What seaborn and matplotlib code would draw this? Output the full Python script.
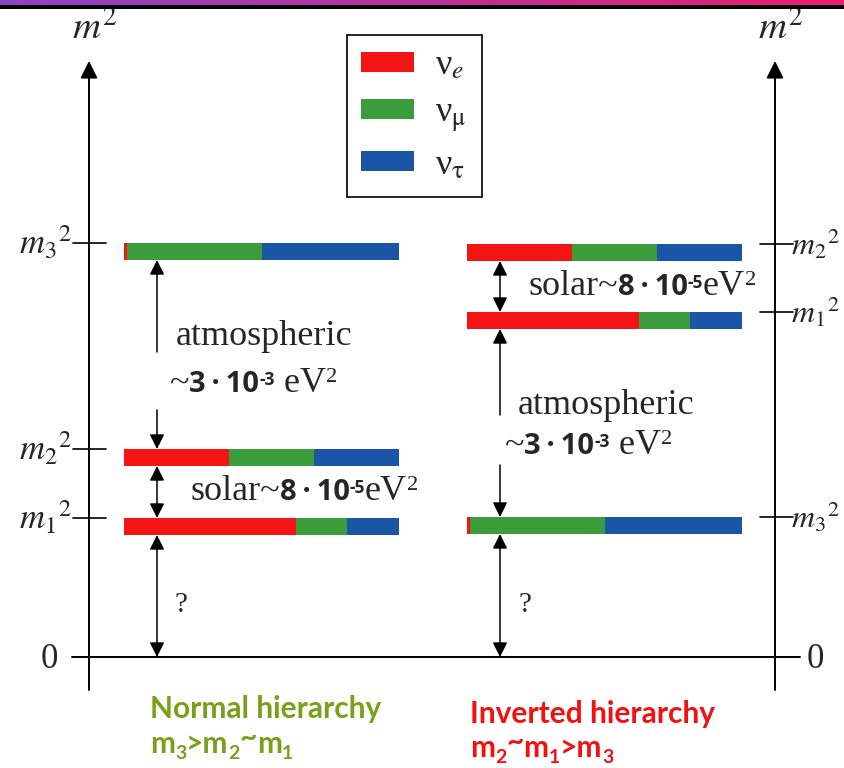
import numpy as np
import pandas as pd
import matplotlib
matplotlib.use("Agg")
import matplotlib.pyplot as plt
from matplotlib.patches import Patch
import seaborn as sns

# ---- data -----------------------------------------------------------------
flavors = ["e", "mu", "tau"]
flavor_labels = ["ν$_e$", "ν$_{\\mathrm{μ}}$", "ν$_{\\mathrm{τ}}$"]
flavor_colors = ["#f41414", "#3b9c3b", "#1b56a6"]

states = ["m1", "m2", "m3"]
# flavour content |U_ai|^2 of each mass state (e, mu, tau)
content_m1 = [0.625, 0.185, 0.19]
content_m2 = [0.38, 0.31, 0.31]
content_m3 = [0.01, 0.49, 0.50]

# schematic m^2 levels (arbitrary units, zero at the baseline)
normal_levels = [1.39, 2.08, 4.14]
inverted_levels = [3.45, 4.13, 1.40]

state_ticks = [r"$m_1{}^2$", r"$m_2{}^2$", r"$m_3{}^2$"]

# ---- style ----------------------------------------------------------------
sns.set_theme(style="white")
plt.rcParams["font.family"] = ["Liberation Serif", "DejaVu Serif"]
plt.rcParams["mathtext.fontset"] = "stix"
palette = dict(zip(flavors, sns.color_palette(flavor_colors)))

SERIF = ["Liberation Serif", "DejaVu Serif"]
GOTHIC = ["Open Sans", "DejaVu Sans"]
CALIB = ["Lato", "DejaVu Sans"]

fig = plt.figure(figsize=(8.44, 7.68), dpi=100)
ax = fig.add_axes([0, 0, 1, 1])
ax.set_xlim(0, 844)
ax.set_ylim(-1.11, 6.57)
ax.axis("off")

# header stripe
hdr = fig.add_axes([0, 1 - 9 / 768, 1, 9 / 768])
c0 = np.array([0x8e, 0x44, 0xc8]) / 255
c1 = np.array([0xea, 0x1e, 0x6e]) / 255
t = np.linspace(0, 1, 400)[None, :, None]
grad = c0 + (c1 - c0) * t
img = np.concatenate([np.repeat(grad, 5, axis=0), np.zeros((4, 400, 3))], axis=0)
hdr.imshow(img, aspect="auto", interpolation="bilinear")
hdr.axis("off")

# ---- level bars -------------------------------------------------------------
content = dict(zip(states, [content_m1, content_m2, content_m3]))
rows = []
for name, levels, x0 in [("normal", normal_levels, 124), ("inverted", inverted_levels, 467)]:
    for st, lv in zip(states, levels):
        cum = 0.0
        for fl, fr in zip(flavors, content[st]):
            rows.append(dict(hier=name, state=st, level=lv, flavor=fl, left=cum, frac=fr, x0=x0))
            cum += fr
df = pd.DataFrame(rows)

BAR_W = 275
BAR_H = 0.17
for _, r in df.iterrows():
    ax.barh(r.level, r.frac * BAR_W, left=r.x0 + r.left * BAR_W, height=-BAR_H,
            align="edge", color=palette[r.flavor], linewidth=0)

# ---- axes ------------------------------------------------------------------
ax.plot([72, 800], [0, 0], color="black", lw=1.4)
for xa in (89, 775):
    ax.annotate("", xy=(xa, 5.96), xytext=(xa, -0.33),
                arrowprops=dict(arrowstyle="-|>", color="black", lw=1.4,
                                mutation_scale=26, shrinkA=0, shrinkB=0))
    ax.text(xa + 6, 6.28, r"$m^2$", ha="center", va="center", fontsize=28)

TICK_FS = 25
for lv, lab in zip(normal_levels, state_ticks):
    ax.plot([73, 106], [lv, lv], color="black", lw=1.2)
    ax.text(72, lv, lab, ha="right", va="center", fontsize=TICK_FS)
for lv, lab in zip(inverted_levels, state_ticks):
    ax.plot([760, 793], [lv, lv], color="black", lw=1.2)
    ax.text(791, lv, lab, ha="left", va="center", fontsize=23)
ax.text(49, -0.03, "0", ha="center", va="center", fontsize=TICK_FS)
ax.text(815, -0.03, "0", ha="center", va="center", fontsize=TICK_FS)


# ---- arrows ----------------------------------------------------------------
def arrow(x, y_from, y_to, both=False):
    ax.annotate("", xy=(x, y_to), xytext=(x, y_from),
                arrowprops=dict(arrowstyle="<|-|>" if both else "-|>", color="black",
                                lw=1.1, mutation_scale=22, shrinkA=0, shrinkB=0))


n1, n2, n3 = normal_levels
arrow(157, 3.05, n3 - BAR_H)
arrow(157, 2.47, n2)
arrow(157, n2 - BAR_H, n1, both=True)
arrow(157, n1 - BAR_H, 0, both=True)

i1, i2, i3 = inverted_levels
arrow(500, i2 - BAR_H, i1, both=True)
arrow(500, 2.42, i1 - BAR_H)
arrow(500, 1.92, i3)
arrow(500, i3 - BAR_H, 0, both=True)


# ---- annotations ------------------------------------------------------------
renderer = fig.canvas.get_renderer()


def rich(x, y, parts):
    """Draw text pieces one after another on a common baseline."""
    xd = x
    for s, kw, dy in parts:
        tx = ax.text(xd, y + dy / 100.0, s, ha="left", va="baseline", **kw)
        bb = tx.get_window_extent(renderer)
        xd = ax.transData.inverted().transform((bb.x1, 0))[0]


S = 26
serif = dict(family=SERIF, fontsize=S)
serif_sup = dict(family=SERIF, fontsize=S * 0.62)
goth = dict(family=GOTHIC, fontsize=21, fontweight="bold")
goth_sup = dict(family=GOTHIC, fontsize=12.5, fontweight="bold")
THIN = "\u2009"


def solar(x, y):
    rich(x, y, [("solar~", serif, 0), ("8" + THIN + "·" + THIN + "10", goth, 0), ("-5", goth_sup, 7),
                ("eV", serif, 0), ("2", serif_sup, 10)])


def atmo(x, y):
    rich(x, y, [("~", serif, 0), ("3" + THIN + "·" + THIN + "10", goth, 0), ("-3", goth_sup, 7),
                (" eV", serif, 0), ("2", serif_sup, 10)])


ax.text(176, (657 - 345) / 100, "atmospheric", ha="left", va="baseline", **serif)
atmo(170, (657 - 392) / 100)
solar(190, (657 - 500) / 100)

solar(528, (657 - 295) / 100)
ax.text(518, (657 - 414) / 100, "atmospheric", ha="left", va="baseline", **serif)
atmo(505, (657 - 454) / 100)

ax.text(181, (657 - 605) / 100, "?", ha="center", va="center", fontsize=21)
ax.text(525, (657 - 605) / 100, "?", ha="center", va="center", fontsize=21)

# ---- legend ----------------------------------------------------------------
handles = [Patch(facecolor=palette[f], edgecolor="none") for f in flavors]
leg = ax.legend(handles, flavor_labels, loc="upper left",
                bbox_to_anchor=(347 / 844, 1 - 35 / 768), bbox_transform=fig.transFigure,
                borderaxespad=0, frameon=True, fancybox=False, framealpha=1,
                edgecolor="black", fontsize=26, handlelength=1.45, handleheight=0.47,
                handletextpad=0.6, labelspacing=0.40, borderpad=0.40)
leg.get_frame().set_linewidth(1.2)

# ---- hierarchy captions -------------------------------------------------------
green = "#78a01a"
red = "#f21010"
cap = dict(family=CALIB, fontsize=21.5, fontweight="bold")
sub = dict(family=CALIB, fontsize=14, fontweight="bold")


def relation(x, y, color, order, signs):
    kw = dict(color=color, **cap)
    kws = dict(color=color, **sub)
    parts = [("m", kw, 0), (order[0], kws, -6)]
    for sign, idx in zip(signs, order[1:]):
        if sign == "~":
            parts += [("~", kw, 6), ("m", kw, 0), (idx, kws, -6)]
        else:
            parts += [(sign + "m", kw, 0), (idx, kws, -6)]
    rich(x, y, parts)


ax.text(150, (657 - 718) / 100, "Normal hierarchy", ha="left", va="baseline", color=green, **cap)
relation(150, (657 - 753) / 100, green, ["3", "2", "1"], [">", "~"])

ax.text(470, (657 - 723) / 100, "Inverted hierarchy", ha="left", va="baseline", color=red, **cap)
relation(470, (657 - 757) / 100, red, ["2", "1", "3"], ["~", ">"])

fig.savefig("out.png", dpi=100)
